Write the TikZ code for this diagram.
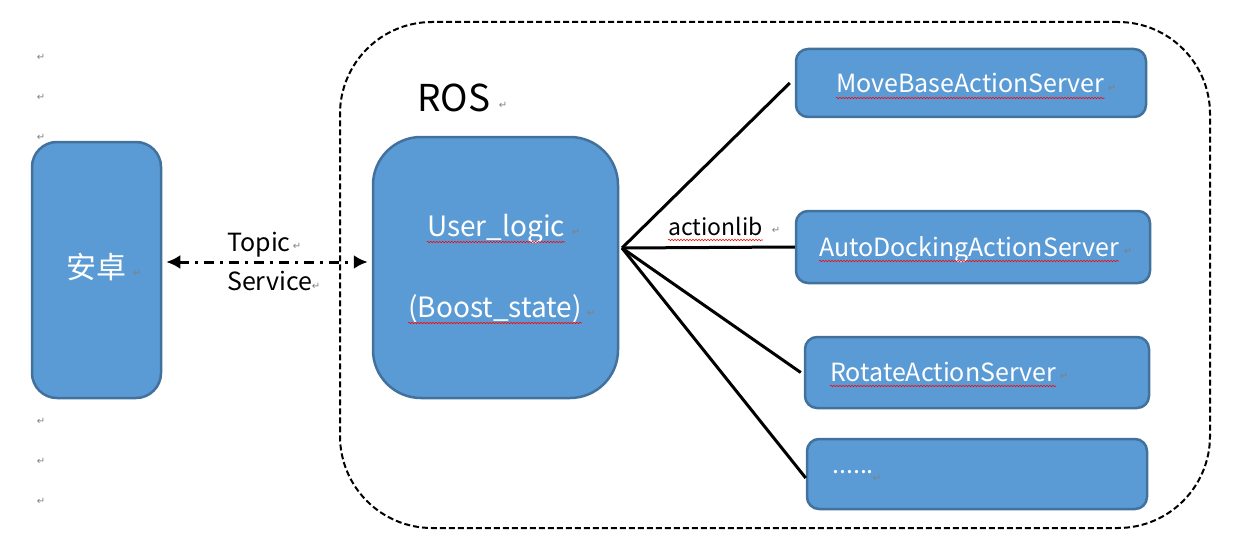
\documentclass[tikz,border=0pt]{standalone}
\usepackage{fontspec}
\usepackage{xcolor}
\setmainfont{Noto Sans CJK SC}
\newfontfamily\symfont{DejaVu Sans}
\usetikzlibrary{arrows.meta, positioning, decorations.pathmorphing}
\definecolor{BoxBlue}{HTML}{5B9BD5}
\definecolor{BoxEdge}{HTML}{41719C}

\begin{document}
\begin{tikzpicture}[x=1pt, y=-1pt,
    box/.style={rectangle, draw=BoxEdge, fill=BoxBlue, line width=2.5pt},
    srv/.style={box, rounded corners=12pt},
    lbl/.style={inner sep=0pt, font=\fontsize{25}{30}\selectfont},
    wlbl/.style={lbl, text=white},
    pm/.style={inner sep=0pt, font=\symfont\fontsize{10}{10}\selectfont, text=gray},
    spell/.style={draw=red, line width=0.6pt, decorate, decoration={snake, amplitude=0.7pt, segment length=3pt}},
    link/.style={line width=3pt}]

    \useasboundingbox (0,0) rectangle (1238,559);

    % ROS frame
    \node[draw, line width=2pt, dash pattern=on 6pt off 3pt, rounded corners=92pt,
          minimum width=870pt, minimum height=506pt] (rosframe) at (775,275) {};
    \node[lbl, anchor=base west, font=\fontsize{37}{40}\selectfont] (ros) at (417,112) {ROS};

    % boxes
    \node[box, rounded corners=25pt, minimum width=129pt, minimum height=256pt] (android) at (96.5,270) {};
    \node[wlbl, font=\fontsize{30}{34}\selectfont] (tandroid) at (96,267) {安卓};
    \node[box, rounded corners=48pt, minimum width=245pt, minimum height=261pt] (logic) at (495.5,267.5) {};
    \node[wlbl, anchor=base, font=\fontsize{28}{32}\selectfont] (tlogic) at (496,236) {User\_logic};
    \node[wlbl, anchor=base, font=\fontsize{28}{32}\selectfont] (tboost) at (495,317) {(Boost\_state)};

    \node[srv, minimum width=350pt, minimum height=68pt] (movebase) at (971,83) {};
    \node[srv, minimum width=354pt, minimum height=72pt] (autodock) at (973,247) {};
    \node[srv, minimum width=344pt, minimum height=71pt] (rotate) at (977,372.5) {};
    \node[srv, minimum width=340pt, minimum height=70pt] (more) at (977,474) {};
    \node[wlbl, anchor=base west] (tmove) at (836,93) {MoveBaseActionServer};
    \node[wlbl, anchor=base west] (tdock) at (819,256) {AutoDockingActionServer};
    \node[wlbl, anchor=base west] (trot) at (830,381) {RotateActionServer};
    \node[wlbl, anchor=base west] (tmore) at (832,473) {......};

    % Topic / Service
    \draw[line width=3pt, dash pattern=on 10pt off 6pt on 3pt off 6pt, {Latex[length=14pt, width=14pt]}-{Latex[length=14pt, width=14pt]},
          shorten <=4pt, shorten >=4pt]
        ([yshift=8pt]android.east) -- ([yshift=8pt]android.east -| logic.west);
    \node[lbl, anchor=base west] (topic) at (227,251) {Topic};
    \node[lbl, anchor=base west] (service) at (227,290) {Service};

    % actionlib
    \coordinate (hub) at (622,248);
    \draw[link] (hub) -- ([xshift=-5pt]movebase.west);
    \draw[link] (hub) -- (autodock.west);
    \draw[link] (hub) -- ([xshift=-3pt]rotate.west);
    \draw[link] (hub) -- ([yshift=-4pt]more.west);
    \node[lbl, anchor=base west, font=\fontsize{23}{28}\selectfont] (alib) at (668,235) {actionlib};

    % spell marks
    \foreach \t/\d in {tlogic/6, tboost/6, alib/5, tmove/5, tdock/5, trot/5}
        \draw[spell] ([yshift=-\d pt]\t.base west) -- ([yshift=-\d pt]\t.base east);

    % paragraph marks
    \foreach \y [count=\i] in {57, 97, 137, 421, 461, 501}
        \node[pm] (pmleft\i) at (41,\y) {↵};
    \foreach \n/\x/\y in {android/137/273, topic/297/246, service/316/286, ros/503/105,
                          logic/576/232, boost/591/313, alib/776/230, move/1112/88,
                          dock/1128/251, rot/1064/376, more/877/478}
        \node[pm] (pm\n) at (\x,\y) {↵};
\end{tikzpicture}
\end{document}
